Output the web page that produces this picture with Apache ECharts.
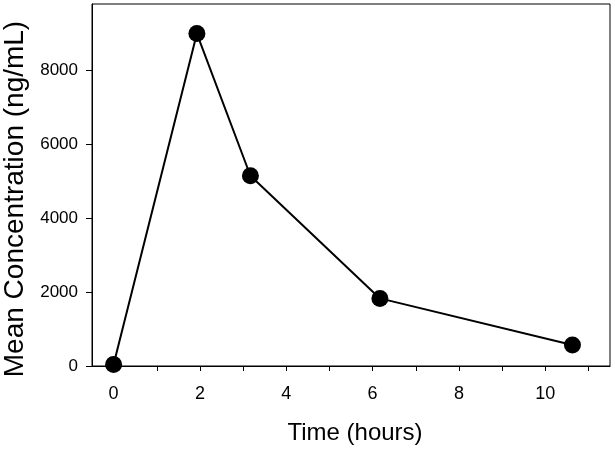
<!DOCTYPE html>
<html>
<head>
<meta charset="utf-8">
<script src="https://cdn.jsdelivr.net/npm/echarts@6/dist/echarts.min.js"></script>
<style>html,body{margin:0;padding:0;background:#fff}#c{width:615px;height:450px}</style>
</head>
<body>
<div id="c"></div>
<script>
var timeHours = [0, 1.93, 3.17, 6.17, 10.63];
var meanConc = [40, 9000, 5150, 1830, 570];
var xTickLabels = [0, 2, 4, 6, 8, 10];
var xTickMarks = [0, 1, 2, 3, 4, 5, 6, 7, 8, 9, 10, 11];
var yTickLabels = [0, 2000, 4000, 6000, 8000];

var chart = echarts.init(document.getElementById('c'), null, {renderer: 'canvas'});
var font = 'Liberation Sans, Arial, sans-serif';
function plain(v) { return String(v); }
chart.setOption({
  animation: false,
  backgroundColor: '#fff',
  grid: {left: 92, right: 5, top: 4, bottom: 84, containLabel: false, outerBoundsMode: 'none',
         show: true, borderColor: '#000', borderWidth: 1, backgroundColor: 'transparent'},
  xAxis: {
    type: 'value', min: -0.5, max: 11.5,
    name: 'Time (hours)', nameLocation: 'middle', nameGap: 55,
    nameTextStyle: {fontFamily: font, fontSize: 24, color: '#000', padding: [0, 0, 0, 8]},
    axisLine: {show: true, onZero: false, lineStyle: {color: '#000', width: 1}},
    axisTick: {show: true, inside: false, length: 5, customValues: xTickMarks, lineStyle: {color: '#000'}},
    axisLabel: {customValues: xTickLabels, formatter: plain, margin: 19, fontFamily: font, fontSize: 18, color: '#000'},
    splitLine: {show: false}
  },
  yAxis: {
    type: 'value', min: 0, max: 9800,
    name: 'Mean Concentration (ng/mL)', nameLocation: 'middle', nameGap: 60,
    nameTextStyle: {fontFamily: font, fontSize: 28, color: '#000', padding: [0, 28, 0, 0]},
    axisLine: {show: true, onZero: false, lineStyle: {color: '#000', width: 1}},
    axisTick: {show: true, inside: false, length: 6, customValues: yTickLabels, lineStyle: {color: '#000'}},
    axisLabel: {customValues: yTickLabels, formatter: plain, margin: 14, fontFamily: font, fontSize: 17, color: '#000'},
    splitLine: {show: false}
  },
  series: [{
    type: 'line',
    data: timeHours.map(function (t, i) { return [t, meanConc[i]]; }),
    clip: false,
    symbol: 'circle', symbolSize: 17,
    lineStyle: {color: '#000', width: 2},
    itemStyle: {color: '#000'}
  }]
});
</script>
</body>
</html>
